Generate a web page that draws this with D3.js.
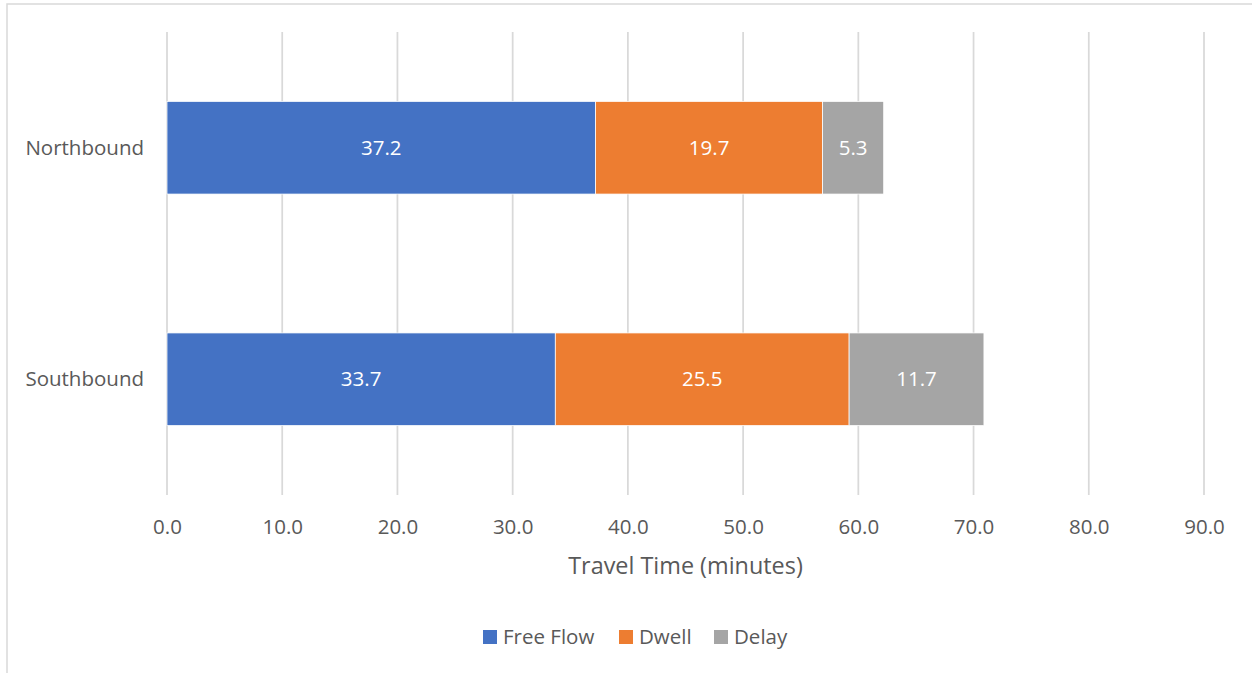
<!DOCTYPE html>
<html>
<head>
<meta charset="utf-8">
<script src="https://cdn.jsdelivr.net/npm/d3@7"></script>
<style>
html,body{margin:0;padding:0;background:#fff;}
svg{display:block;font-family:"Open Sans",sans-serif;}
</style>
</head>
<body>
<svg id="chart" width="1252" height="673"></svg>
<script>
const categories = ["Northbound", "Southbound"];
const seriesNames = ["Free Flow", "Dwell", "Delay"];
const freeFlow = [37.2, 33.7];
const dwell = [19.7, 25.5];
const delay = [5.3, 11.7];
const xTicks = [0, 10, 20, 30, 40, 50, 60, 70, 80, 90];
const colors = ["#4472C4", "#ED7D31", "#A5A5A5"];

(function () {
const svg = d3.select("#chart");
const W = 1252, H = 673;
const pLeft = 167, pRight = 1204, pTop = 32, pBottom = 495;
const FS = 20.5;

// outer border
svg.append("rect").attr("x", 7).attr("y", 4).attr("width", W + 20).attr("height", H + 20)
  .attr("fill", "#fff").attr("stroke", "#d9d9d9").attr("stroke-width", 1.5);

const x = d3.scaleLinear().domain([0, 90]).range([pLeft, pRight]);
const y = d3.scaleBand().domain(categories).range([pTop, pBottom]).paddingInner(0.6).paddingOuter(0.3);

// gridlines
svg.append("g").selectAll("line").data(xTicks).join("line")
  .attr("x1", d => x(d)).attr("x2", d => x(d))
  .attr("y1", pTop).attr("y2", pBottom)
  .attr("stroke", "#d9d9d9").attr("stroke-width", 1.75);

// x axis tick labels
const xAxis = d3.axisBottom(x).tickValues(xTicks).tickFormat(d3.format(".1f")).tickSize(0).tickPadding(0);
const gx = svg.append("g").attr("transform", `translate(0,${pBottom})`).call(xAxis);
gx.select(".domain").remove();
gx.selectAll("text").attr("font-size", FS).attr("fill", "#595959")
  .attr("font-family", "'Open Sans',sans-serif").attr("dy", "0.35em").attr("y", 32);

// y axis labels
const yAxis = d3.axisLeft(y).tickSize(0).tickPadding(0);
const gy = svg.append("g").attr("transform", `translate(144,0)`).call(yAxis);
gy.select(".domain").remove();
gy.selectAll("text").attr("font-size", FS).attr("fill", "#595959")
  .attr("font-family", "'Open Sans',sans-serif").attr("dy", "0.35em");

// stacked data
const rows = categories.map((c, i) => ({cat: c, "Free Flow": freeFlow[i], "Dwell": dwell[i], "Delay": delay[i]}));
const stack = d3.stack().keys(seriesNames)(rows);

const layers = svg.append("g").selectAll("g").data(stack).join("g")
  .attr("fill", (d, i) => colors[i]);
layers.selectAll("rect").data(d => d).join("rect")
  .attr("x", d => x(d[0])).attr("width", d => x(d[1]) - x(d[0]))
  .attr("y", d => y(d.data.cat)).attr("height", y.bandwidth())
  .attr("stroke", "#fff").attr("stroke-width", 0.75);

layers.selectAll("text").data(d => d).join("text")
  .attr("x", d => (x(d[0]) + x(d[1])) / 2)
  .attr("y", d => y(d.data.cat) + y.bandwidth() / 2)
  .attr("dy", "0.35em").attr("text-anchor", "middle")
  .attr("fill", "#fff").attr("font-size", FS)
  .text(d => d3.format(".1f")(d[1] - d[0]));

// axis title
svg.append("text").attr("x", (pLeft + pRight) / 2).attr("y", 566).attr("dy", "0.35em")
  .attr("text-anchor", "middle").attr("font-size", 23.4).attr("fill", "#595959")
  .text("Travel Time (minutes)");

// legend
const legendX = [483, 619, 714];
const lg = svg.append("g").selectAll("g").data(seriesNames).join("g")
  .attr("transform", (d, i) => `translate(${legendX[i]},630)`);
lg.append("rect").attr("width", 14).attr("height", 14).attr("fill", (d, i) => colors[i]);
lg.append("text").attr("x", 20).attr("y", 7).attr("dy", "0.35em")
  .attr("font-size", FS).attr("fill", "#595959").text(d => d);
})();
</script>
</body>
</html>
